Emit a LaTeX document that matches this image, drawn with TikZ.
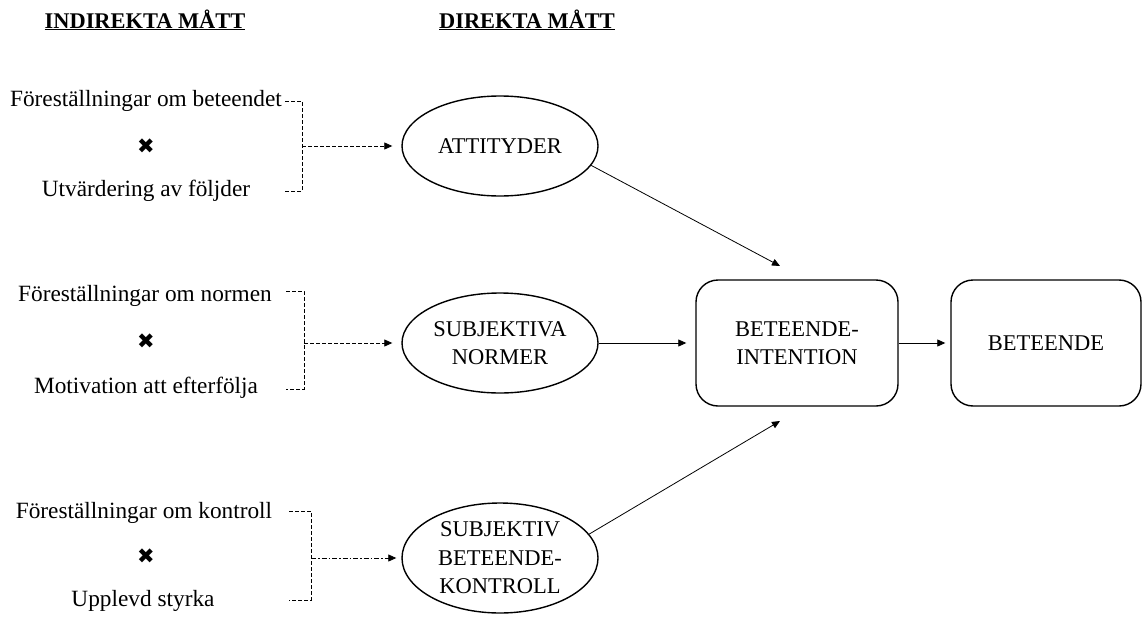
\documentclass[tikz,border=0pt]{standalone}
\usepackage{fontspec}
\setmainfont{Liberation Serif}
\newfontfamily\symfont{DejaVu Sans}
\usetikzlibrary{shapes.geometric,arrows.meta}
\begin{document}
\begin{tikzpicture}[x=1pt,y=-1pt,
  txt/.style={font=\fontsize{23.3}{27}\selectfont, inner sep=0pt},
  hdr/.style={font=\fontsize{22.4}{26}\selectfont\bfseries, inner sep=0pt},
  xmark/.style={font=\fontsize{21}{24}\symfont, inner sep=0pt},
  ell/.style={ellipse, draw, line width=1.4pt, minimum width=196pt, inner sep=0pt, align=center, font=\fontsize{22.5}{28.5}\selectfont},
  rbox/.style={draw, line width=1.4pt, rounded corners=22pt, minimum height=126pt, inner sep=0pt, align=center, font=\fontsize{22.5}{28.5}\selectfont},
  brk/.style={line width=0.8pt, dash pattern=on 4pt off 2pt},
  arr/.style={line width=0.8pt, -{Triangle[length=8pt,width=7pt]}},
  darr/.style={arr, dash pattern=on 4pt off 2pt},
  ddarr/.style={arr, dash pattern=on 5pt off 2pt on 1.5pt off 2pt}
]
\useasboundingbox (0,0) rectangle (1142,626);

% headers
\node[hdr] (h1) at (145,20) {\underline{INDIREKTA MÅTT}};
\node[hdr] (h2) at (527,20) {\underline{DIREKTA MÅTT}};

% group 1
\node[txt] (a1) at (146,101) {Föreställningar om beteendet};
\node[xmark] (x1) at (146,146) {✖};
\node[txt] (a2) at (146,191) {Utvärdering av följder};
% group 2
\node[txt] (b1) at (145,296) {Föreställningar om normen};
\node[xmark] (x2) at (146,341) {✖};
\node[txt] (b2) at (146,388) {Motivation att efterfölja};
% group 3
\node[txt] (c1) at (144,513) {Föreställningar om kontroll};
\node[xmark] (x3) at (146,556) {✖};
\node[txt] (c2) at (143,601) {Upplevd styrka};

% ellipses
\node[ell, minimum height=100pt] (att) at (500,146) {ATTITYDER};
\node[ell, minimum height=100pt] (nor) at (500,343) {SUBJEKTIVA\\NORMER};
\node[ell, minimum height=110pt] (ktl) at (500,558) {SUBJEKTIV\\BETEENDE-\\KONTROLL};

% boxes
\node[rbox, minimum width=202pt] (int) at (797,343) {BETEENDE-\\INTENTION};
\node[rbox, minimum width=190pt] (bet) at (1046,343) {BETEENDE};

% brackets
\coordinate (p1t) at (302,101);
\coordinate (p1m) at (302,146);
\coordinate (p1b) at (302,191);
\draw[brk] (285,101) -- (p1t) -- (p1b) -- (285,191);
\draw[darr, shorten >=9pt] (p1m) -- (att.west);

\coordinate (p2t) at (304,291);
\coordinate (p2m) at (304,343);
\coordinate (p2b) at (304,389);
\draw[brk] (286,291) -- (p2t) -- (p2b) -- (286,389);
\draw[darr, shorten >=9pt] (p2m) -- (nor.west);

\coordinate (p3t) at (311,511);
\coordinate (p3m) at (311,558);
\coordinate (p3b) at (311,600);
\draw[brk] (289,511) -- (p3t) -- (p3b) -- (289,600);
\draw[ddarr, shorten >=5pt] (p3m) -- (ktl.west);

% direct arrows
\coordinate (t1) at (780,266);
\coordinate (t3) at (780,421);
\draw[arr] (att.-12.5) -- (t1);
\draw[arr] (ktl.15) -- (t3);
\draw[arr, shorten >=9pt] (nor.east) -- (int.west);
\draw[arr, shorten >=5pt] (int.east) -- (bet.west);
\end{tikzpicture}
\end{document}
